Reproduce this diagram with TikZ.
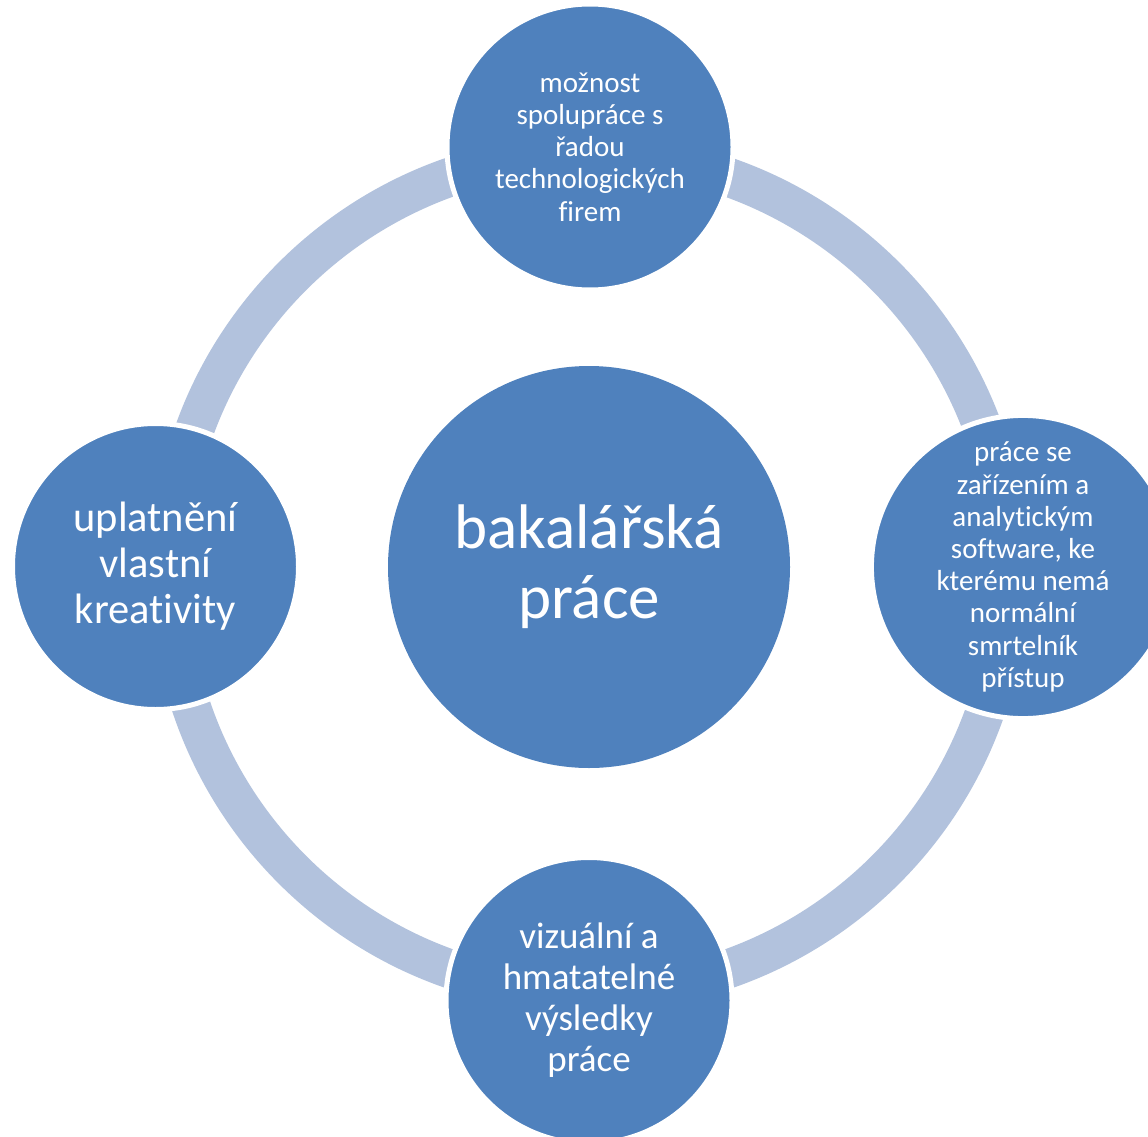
\documentclass[tikz,border=0pt]{standalone}
\usepackage{fontspec}
\setmainfont{Carlito}[Ligatures=NoCommon]
\definecolor{nodeblue}{HTML}{4F81BD}
\definecolor{ringblue}{HTML}{B2C2DD}
\begin{document}
\begin{tikzpicture}[x=1pt,y=-1pt,
  ring/.style={draw=ringblue,line width=39pt},
  hub/.style={circle,fill=nodeblue,inner sep=0pt,minimum size=402pt,text=white,align=center,font=\fontsize{63}{70}\selectfont},
  sat/.style={circle,fill=nodeblue,draw=white,line width=5pt,inner sep=0pt,minimum size=286pt,text=white,align=center},
  small/.style={font=\fontsize{29}{32.2}\selectfont},
  mid/.style={font=\fontsize{37}{41}\selectfont},
  big/.style={font=\fontsize{42.5}{46}\selectfont}]
\useasboundingbox (0,0) rectangle (1148,1137);
\clip (0,0) rectangle (1148,1137);
\fill[white] (0,0) rectangle (1148,1137);
\coordinate (rc) at (589,573);
\draw[ring] (rc) circle[radius=419.5pt];
\node[hub] (center) at (589,567) {bakalářská\\práce};
\node[sat,small] (top) at (590,147) {možnost\\spolupráce s\\řadou\\technologických\\firem};
\node[sat,small] (right) at (1023,567) {práce se\\zařízením a\\analytickým\\software, ke\\kterému nemá\\normální\\smrtelník\\přístup};
\node[sat,mid] (bottom) at (589,1000.5) {vizuální a\\hmatatelné\\výsledky\\práce};
\node[sat,big] (left) at (155.5,566.5) {uplatnění\\vlastní\\kreativity};
\end{tikzpicture}
\end{document}
